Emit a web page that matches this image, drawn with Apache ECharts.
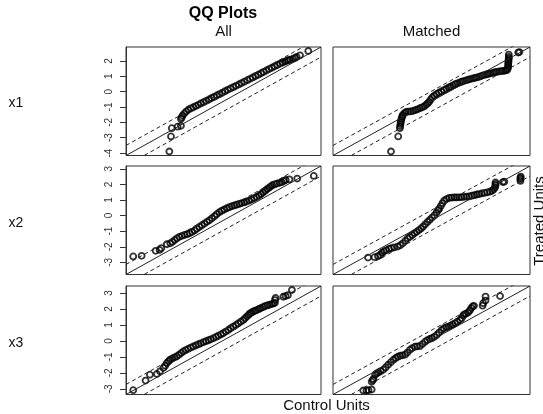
<!DOCTYPE html>
<html><head><meta charset="utf-8">
<script src="https://cdn.jsdelivr.net/npm/echarts@6/dist/echarts.min.js"></script>
<style>html,body{margin:0;padding:0;background:#fff}#c{width:543px;height:414px}</style>
</head><body><div id="c"></div>
<script>
// Row / column labels
const rowLabels = ['x1', 'x2', 'x3'];
const colTitles = ['All', 'Matched'];
// Y tick labels per row
const yTicksX1 = [-4, -3, -2, -1, 0, 1, 2];
const yTicksX2 = [-3, -2, -1, 0, 1, 2, 3];
const yTicksX3 = [-3, -2, -1, 0, 1, 2, 3];

// QQ pairs: [control quantile, treated quantile]
const x1All = [[-2.59,-3.90],[-2.53,-2.92],[-2.50,-2.38],[-2.29,-2.28],[-2.17,-2.23],[-2.17,-1.78],[-2.14,-1.68],[-2.11,-1.56],
[-2.05,-1.43],[-1.98,-1.30],[-1.90,-1.18],[-1.81,-1.09],[-1.72,-1.01],[-1.63,-0.94],[-1.54,-0.86],[-1.45,-0.77],[-1.35,-0.69],[-1.25,-0.60],[-1.15,-0.51],[-1.06,-0.42],[-0.97,-0.34],[-0.87,-0.25],[-0.77,-0.16],[-0.67,-0.07],[-0.57,0.03],[-0.47,0.12],[-0.37,0.21],[-0.27,0.29],[-0.17,0.38],[-0.07,0.47],[0.03,0.56],[0.13,0.65],[0.24,0.75],[0.34,0.84],[0.44,0.93],[0.54,1.02],[0.64,1.11],[0.74,1.20],[0.83,1.29],[0.93,1.38],[1.03,1.47],[1.13,1.56],[1.23,1.65],[1.33,1.74],[1.43,1.83],[1.52,1.90],[1.60,1.96],[1.67,2.01],[1.73,2.05],[1.79,2.09],
[1.90,2.15],[1.97,2.20],[2.03,2.26],[2.15,2.37],[2.45,2.65]];
const x1Matched = [[-2.08,-3.90],[-1.82,-2.92],[-1.76,-2.38],[-1.75,-2.25],[-1.74,-2.12],[-1.73,-2.00],[-1.72,-1.88],[-1.70,-1.76],[-1.68,-1.64],[-1.66,-1.52],
[-1.60,-1.40],[-1.54,-1.32],[-1.46,-1.30],[-1.37,-1.29],[-1.28,-1.25],[-1.20,-1.20],[-1.13,-1.15],[-1.04,-1.08],[-0.96,-1.02],[-0.89,-0.96],
[-0.82,-0.86],[-0.76,-0.76],[-0.71,-0.66],[-0.66,-0.52],[-0.60,-0.38],[-0.53,-0.27],[-0.45,-0.16],[-0.36,-0.07],[-0.27,0.01],[-0.18,0.10],
[-0.09,0.19],[0.00,0.27],[0.06,0.32],[0.15,0.41],[0.23,0.49],[0.30,0.54],[0.39,0.60],[0.46,0.65],[0.53,0.69],[0.62,0.74],
[0.70,0.79],[0.77,0.82],[0.86,0.86],[0.94,0.90],[1.01,0.93],[1.10,0.98],[1.18,1.03],[1.25,1.08],[1.34,1.12],[1.41,1.16],
[1.49,1.19],[1.58,1.23],[1.65,1.27],[1.72,1.29],[1.81,1.32],[1.89,1.34],[1.96,1.35],[2.03,1.38],[2.08,1.40],[2.11,1.50],
[2.13,1.61],[2.13,1.72],[2.13,1.83],[2.14,1.94],[2.14,2.05],[2.15,2.16],[2.15,2.26],[2.15,2.42],[2.49,2.55],[2.53,2.58]];
const x2All = [[-3.52,-2.62],[-3.22,-2.58],[-2.72,-2.26],[-2.58,-2.20],[-2.52,-2.09],[-2.32,-1.84],[-2.20,-1.78],[-2.12,-1.68],
[-2.04,-1.57],[-1.96,-1.46],[-1.87,-1.36],[-1.78,-1.30],[-1.69,-1.24],[-1.60,-1.19],[-1.51,-1.14],[-1.42,-1.05],[-1.33,-0.95],[-1.25,-0.84],[-1.16,-0.73],[-1.07,-0.62],[-0.98,-0.51],[-0.89,-0.40],[-0.80,-0.30],[-0.71,-0.17],[-0.62,-0.04],[-0.54,0.09],[-0.45,0.22],[-0.36,0.31],[-0.27,0.39],[-0.18,0.47],[-0.09,0.54],[0.00,0.60],[0.09,0.65],[0.17,0.70],[0.26,0.75],[0.35,0.80],[0.44,0.85],[0.52,0.90],[0.61,0.96],[0.70,1.03],[0.79,1.11],[0.88,1.19],[0.97,1.28],[1.04,1.38],[1.11,1.48],[1.19,1.59],[1.26,1.70],[1.32,1.78],[1.38,1.86],[1.44,1.95],[1.52,2.00],[1.60,2.05],
[1.70,2.10],[1.78,2.14],[1.85,2.22],[1.92,2.28],[2.05,2.32],[2.33,2.37],[2.92,2.54]];
const x2Matched = [[-2.54,-2.69],[-2.31,-2.67],[-2.19,-2.60],[-2.10,-2.52],[-2.05,-2.38],[-1.98,-2.30],[-1.90,-2.22],[-1.80,-2.14],[-1.72,-2.09],[-1.62,-2.04],[-1.49,-1.99],
[-1.40,-1.90],[-1.31,-1.78],[-1.22,-1.62],[-1.14,-1.46],[-1.06,-1.36],[-0.98,-1.25],[-0.90,-1.14],[-0.82,-1.03],[-0.74,-0.93],[-0.67,-0.83],[-0.60,-0.71],[-0.52,-0.56],[-0.44,-0.41],[-0.36,-0.27],[-0.28,-0.13],[-0.20,0.01],[-0.12,0.20],[-0.06,0.35],[-0.03,0.44],[0.03,0.62],[0.09,0.80],[0.15,0.96],[0.23,1.06],[0.32,1.13],[0.41,1.15],[0.50,1.16],[0.58,1.16],[0.67,1.17],[0.76,1.18],[0.85,1.20],[0.94,1.21],[1.03,1.23],[1.12,1.27],[1.21,1.31],[1.30,1.35],[1.38,1.38],[1.47,1.42],[1.57,1.45],[1.67,1.49],[1.76,1.53],[1.84,1.59],[1.90,1.68],[1.94,1.80],[1.96,1.92],[1.96,2.02],[1.96,2.12],
[2.22,2.15],[2.27,2.17],[2.84,2.22],[2.84,2.33],[2.84,2.42],[2.85,2.50]];
const x3All = [[-3.10,-3.08],[-2.67,-2.48],[-2.52,-2.11],[-2.28,-2.07],[-2.17,-1.90],
[-2.05,-1.69],[-1.99,-1.55],[-1.93,-1.38],[-1.87,-1.27],[-1.82,-1.18],[-1.74,-1.10],[-1.66,-1.03],[-1.59,-0.97],[-1.51,-0.87],[-1.43,-0.76],[-1.36,-0.66],[-1.28,-0.58],[-1.19,-0.50],[-1.10,-0.42],[-1.01,-0.35],[-0.92,-0.28],[-0.83,-0.21],[-0.75,-0.15],[-0.66,-0.08],[-0.57,-0.02],[-0.48,0.04],[-0.40,0.10],[-0.31,0.17],[-0.22,0.25],[-0.14,0.32],[-0.05,0.40],[0.03,0.48],[0.12,0.58],[0.21,0.68],[0.29,0.79],[0.38,0.89],[0.47,0.99],[0.55,1.09],[0.64,1.20],[0.73,1.30],[0.79,1.41],[0.85,1.52],[0.91,1.62],[0.96,1.72],[1.02,1.78],[1.08,1.84],[1.13,1.88],[1.19,1.92],[1.26,1.98],[1.33,2.04],[1.41,2.11],[1.48,2.17],[1.56,2.22],[1.64,2.26],[1.72,2.30],[1.78,2.34],[1.83,2.38],
[1.83,2.55],[1.85,2.68],[2.12,2.76],[2.20,2.80],[2.28,2.86],[2.42,3.18]];
const x3Matched = [[-2.31,-3.10],[-2.20,-3.10],[-2.13,-3.08],[-2.02,-3.04],[-2.02,-2.55],[-1.98,-2.45],[-1.96,-2.38],
[-1.90,-2.11],[-1.84,-2.03],[-1.79,-1.97],[-1.71,-1.89],[-1.62,-1.80],[-1.54,-1.66],[-1.45,-1.49],[-1.36,-1.33],[-1.27,-1.18],[-1.19,-1.07],[-1.12,-0.99],[-1.04,-0.93],[-0.96,-0.90],[-0.87,-0.86],[-0.79,-0.73],[-0.70,-0.56],[-0.62,-0.45],[-0.53,-0.36],[-0.45,-0.34],[-0.36,-0.33],[-0.27,-0.20],[-0.18,-0.05],[-0.10,0.05],[-0.02,0.12],[0.05,0.17],[0.13,0.25],[0.22,0.37],[0.30,0.52],[0.39,0.68],[0.47,0.79],[0.55,0.85],[0.62,0.89],[0.70,0.96],[0.77,1.03],[0.85,1.10],[0.93,1.20],[1.02,1.30],[1.08,1.42],[1.13,1.58],[1.17,1.66],[1.23,1.70],[1.30,1.78],[1.36,1.90],[1.41,2.05],[1.46,2.15],[1.50,2.19],
[1.80,2.20],[1.82,2.36],[1.90,2.52],[1.90,2.77],[2.40,2.80]];

const rows = [
  {label: rowLabels[0], ticks: yTicksX1, panels: [x1All, x1Matched]},
  {label: rowLabels[1], ticks: yTicksX2, panels: [x2All, x2Matched]},
  {label: rowLabels[2], ticks: yTicksX3, panels: [x3All, x3Matched]}
];

const FONT = '"Liberation Sans", Arial, Helvetica, sans-serif';
const colLeft = [126, 333], colWidth = [195, 197];
const rowTop = [47, 166, 286], rowHeight = 108.5;

const grid = [], xAxis = [], yAxis = [], series = [];
rows.forEach((row, r) => {
  const all = row.panels[0].concat(row.panels[1]);
  let mn = Infinity, mx = -Infinity;
  all.forEach(p => { mn = Math.min(mn, p[0], p[1]); mx = Math.max(mx, p[0], p[1]); });
  const span = mx - mn, pad = 0.04 * span, off = 0.1 * span;
  const lo = mn - pad, hi = mx + pad;
  row.panels.forEach((pts, c) => {
    const i = grid.length;
    grid.push({left: colLeft[c], top: rowTop[r], width: colWidth[c], height: rowHeight,
      show: true, borderColor: '#333', borderWidth: 1, backgroundColor: 'transparent', containLabel: false});
    xAxis.push({gridIndex: i, type: 'value', min: lo, max: hi, show: false, splitLine: {show: false},
      axisLine: {onZero: false}});
    yAxis.push({gridIndex: i, type: 'value', min: lo, max: hi, position: 'left',
      splitLine: {show: false},
      axisLine: {show: c === 0, onZero: false, lineStyle: {color: '#333', width: 1}},
      axisTick: {show: c === 0, inside: false, length: 6, customValues: row.ticks, lineStyle: {color: '#333', width: 1}},
      axisLabel: {show: c === 0, customValues: row.ticks, rotate: 90, margin: 12, fontSize: 10,
        color: '#333', fontFamily: FONT, showMinLabel: true, showMaxLabel: true}
    });
    series.push({type: 'scatter', xAxisIndex: i, yAxisIndex: i, data: pts, symbol: 'circle', symbolSize: 6,
      silent: true, clip: true,
      itemStyle: {color: 'rgba(0,0,0,0)', borderColor: '#000', borderWidth: 1.8}});
    const ln = (o, dashed) => ({type: 'line', xAxisIndex: i, yAxisIndex: i, silent: true, clip: true,
      symbol: 'none', data: [[lo, lo + o], [hi, hi + o]],
      lineStyle: {color: '#222', width: 1, type: dashed ? [4, 3] : 'solid'}});
    series.push(ln(0, false), ln(off, true), ln(-off, true));
  });
});

const graphic = [
  {type: 'text', x: 223, y: 14, style: {text: 'QQ Plots', font: 'bold 16px ' + FONT, fill: '#000', textAlign: 'center', align: 'center', textVerticalAlign: 'middle', verticalAlign: 'middle'}},
  {type: 'text', x: 223.5, y: 32, style: {text: colTitles[0], font: '15px ' + FONT, fill: '#111', textAlign: 'center', align: 'center', textVerticalAlign: 'middle', verticalAlign: 'middle'}},
  {type: 'text', x: 431.5, y: 32, style: {text: colTitles[1], font: '15px ' + FONT, fill: '#111', textAlign: 'center', align: 'center', textVerticalAlign: 'middle', verticalAlign: 'middle'}},
  {type: 'text', x: 326.5, y: 406, style: {text: 'Control Units', font: '15px ' + FONT, fill: '#111', textAlign: 'center', align: 'center', textVerticalAlign: 'middle', verticalAlign: 'middle'}},
  {type: 'text', x: 539.5, y: 221, rotation: Math.PI / 2, style: {text: 'Treated Units', font: '15px ' + FONT, fill: '#111', textAlign: 'center', align: 'center', textVerticalAlign: 'middle', verticalAlign: 'middle'}}
];
const rowCenters = [103, 223, 343];
rows.forEach((row, r) => {
  graphic.push({type: 'text', x: 8.5, y: rowCenters[r], style: {text: row.label, font: '14px ' + FONT, fill: '#111', textAlign: 'left', align: 'left', textVerticalAlign: 'middle', verticalAlign: 'middle'}});
});

const chart = echarts.init(document.getElementById('c'), null, {renderer: 'canvas'});
chart.setOption({animation: false, backgroundColor: '#fff', grid, xAxis, yAxis, series, graphic});
</script></body></html>
